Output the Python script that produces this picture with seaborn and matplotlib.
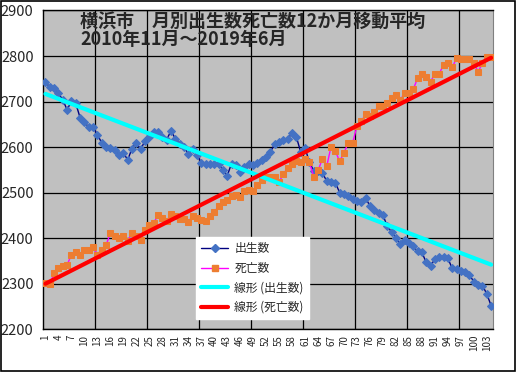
import matplotlib.pyplot as plt
import matplotlib.patches as mpatches
from matplotlib.lines import Line2D
from matplotlib.ticker import FixedLocator
import pandas as pd
import seaborn as sns

# 12-month moving averages, Yokohama, 2010/11 - 2019/06 (104 months)
MONTHS = list(range(1, 105))
BIRTHS = [
    2744, 2731, 2729, 2718, 2704, 2682, 2701, 2696, 2665, 2655,
    2644, 2645, 2627, 2610, 2600, 2599, 2594, 2583, 2588, 2572,
    2597, 2610, 2595, 2614, 2622, 2634, 2633, 2623, 2616, 2636,
    2619, 2607, 2601, 2585, 2597, 2583, 2566, 2562, 2563, 2564,
    2563, 2550, 2537, 2564, 2561, 2545, 2557, 2564, 2561, 2566,
    2572, 2579, 2590, 2607, 2612, 2615, 2618, 2631, 2622, 2589,
    2598, 2567, 2548, 2548, 2543, 2526, 2523, 2522, 2500, 2497,
    2492, 2486, 2482, 2479, 2488, 2471, 2462, 2455, 2451, 2426,
    2414, 2400, 2387, 2396, 2389, 2383, 2371, 2369, 2347, 2340,
    2354, 2360, 2358, 2356, 2334, 2333, 2329, 2325, 2319, 2305,
    2297, 2296, 2278, 2252,
]
DEATHS = [
    2301, 2299, 2323, 2334, 2340, 2342, 2363, 2369, 2364, 2375,
    2374, 2380, 2364, 2375, 2385, 2411, 2405, 2401, 2405, 2395,
    2411, 2406, 2397, 2419, 2429, 2433, 2451, 2444, 2438, 2453,
    2449, 2442, 2442, 2436, 2449, 2445, 2440, 2438, 2449, 2457,
    2471, 2480, 2484, 2493, 2495, 2491, 2504, 2507, 2504, 2517,
    2528, 2535, 2535, 2535, 2523, 2542, 2555, 2563, 2569, 2567,
    2573, 2567, 2535, 2549, 2574, 2558, 2601, 2591, 2569, 2588,
    2610, 2610, 2646, 2657, 2672, 2668, 2678, 2690, 2690, 2696,
    2707, 2715, 2704, 2718, 2718, 2727, 2751, 2761, 2755, 2744,
    2761, 2761, 2781, 2784, 2775, 2795, 2794, 2794, 2794, 2784,
    2766, 2784, 2797, 2797,
]
X_TICKS = list(range(1, 105, 3))
Y_TICKS = list(range(2200, 3000, 100))
LEGEND_LABELS = ["出生数", "死亡数", "線形 (出生数)", "線形 (死亡数)"]
TITLE_LINE1 = "横浜市　月別出生数死亡数12か月移動平均"
TITLE_LINE2 = "2010年11月～2019年6月"

sns.set_style("white")
plt.rcParams["font.family"] = ["Noto Sans CJK JP", "DejaVu Sans"]

df = pd.DataFrame({"month": MONTHS, "births": BIRTHS, "deaths": DEATHS})

fig = plt.figure(figsize=(5.16, 3.72), dpi=100)
ax = fig.add_axes([0.0839, 0.1145, 0.8721, 0.8573])
ax.set_facecolor("#C0C0C0")

# data series
sns.lineplot(data=df, x="month", y="births", ax=ax, color="#000080", lw=1,
             marker="D", markersize=4.3, markerfacecolor="#4472C4",
             markeredgecolor="#4472C4", zorder=3)
sns.lineplot(data=df, x="month", y="deaths", ax=ax, color="#FF00FF", lw=1,
             marker="s", markersize=4, markerfacecolor="#ED7D31",
             markeredgecolor="#ED7D31", zorder=3)

# linear trend lines
sns.regplot(data=df, x="month", y="births", ax=ax, scatter=False, ci=None,
            line_kws=dict(color="#00FFFF", lw=3, zorder=4))
sns.regplot(data=df, x="month", y="deaths", ax=ax, scatter=False, ci=None,
            line_kws=dict(color="#FF0000", lw=3, zorder=4))

ax.set_xlim(0.5, 104.5)
ax.set_ylim(2200, 2900)
ax.set_xlabel("")
ax.set_ylabel("")

ax.set_xticks(X_TICKS)
ax.set_xticklabels([str(t) for t in X_TICKS], rotation=90, fontsize=7)
ax.xaxis.set_minor_locator(FixedLocator([0.5 + 12 * k for k in range(1, 9)]))
ax.set_yticks(Y_TICKS)
ax.set_yticklabels([str(t) for t in Y_TICKS], fontsize=10.5)
ax.tick_params(axis="x", which="both", length=0, pad=4)
ax.tick_params(axis="y", length=0, pad=7)
ax.grid(False)
ax.grid(True, axis="y", which="major", color="black", lw=0.9)
ax.grid(True, axis="x", which="minor", color="black", lw=0.9)
ax.set_axisbelow(True)
for side in ["left", "bottom", "top"]:
    ax.spines[side].set_color("black")
    ax.spines[side].set_linewidth(1)
ax.spines["right"].set_color("#808080")

ax.text(0.0816, 0.965, TITLE_LINE1, transform=ax.transAxes, fontsize=13,
        fontweight="bold", va="center", ha="left", zorder=5)
ax.text(0.0816, 0.910, TITLE_LINE2, transform=ax.transAxes, fontsize=13,
        fontweight="bold", va="center", ha="left", zorder=5)

handles = [
    Line2D([], [], color="#000080", lw=1, marker="D", markersize=4,
           markerfacecolor="#4472C4", markeredgecolor="#4472C4"),
    Line2D([], [], color="#FF00FF", lw=1, marker="s", markersize=4,
           markerfacecolor="#ED7D31", markeredgecolor="#ED7D31"),
    Line2D([], [], color="#00FFFF", lw=3),
    Line2D([], [], color="#FF0000", lw=3),
]
leg = ax.legend(handles, LEGEND_LABELS, loc="lower left",
                bbox_to_anchor=(0.326, 0.014), fontsize=8.5, frameon=True,
                fancybox=False, framealpha=1, facecolor="white",
                edgecolor="white", handlelength=2.3, handletextpad=0.5,
                labelspacing=0.55, borderpad=0.45)
leg.set_zorder(6)

fig.patches.append(mpatches.Rectangle((0.001, 0.0015), 0.997, 0.996,
                                      transform=fig.transFigure, fill=False,
                                      edgecolor="black", lw=1.2))

plt.savefig("out.png", facecolor="w")
plt.close()
